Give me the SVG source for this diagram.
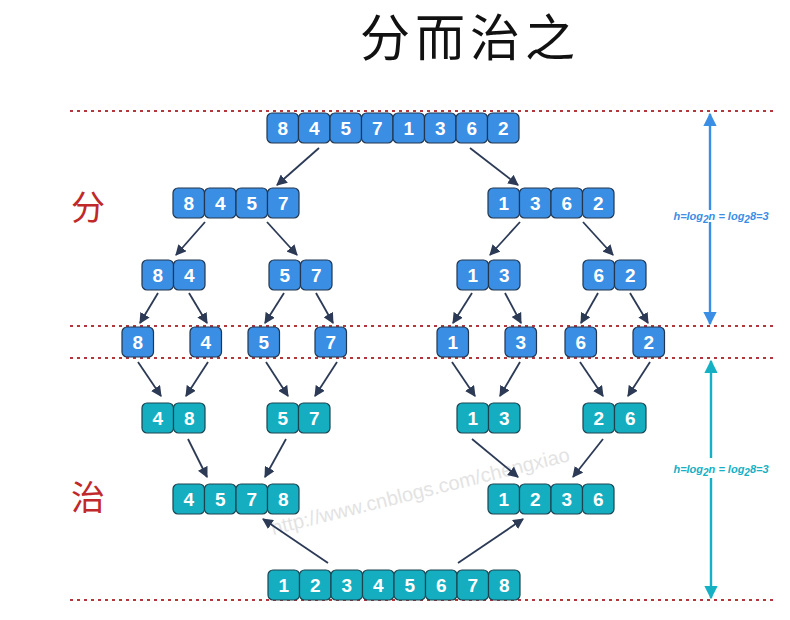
<svg xmlns="http://www.w3.org/2000/svg" width="790" height="620" viewBox="0 0 790 620">
<defs>
<style>
.b{fill:#3a8ee4;stroke:#22364f;stroke-width:1.2}
.t{fill:#14aec0;stroke:#1c4450;stroke-width:1.2}
.b text,.t text{font-family:"Liberation Sans",Arial,sans-serif;font-weight:bold;font-size:19px;fill:#fff;stroke:none;text-anchor:middle}
.dot{stroke:#b3383b;stroke-width:2;stroke-dasharray:3 4;fill:none}
.arr line{stroke:#2c3a56;stroke-width:1.8;marker-end:url(#ah)}
.ann{font-family:"Liberation Sans",Arial,sans-serif;font-style:italic;font-weight:bold;font-size:11px;text-anchor:middle}
.cjk{font-family:"Noto Sans CJK SC","Noto Sans CJK JP",sans-serif}
</style>
<marker id="ah" viewBox="0 0 10 10" refX="9" refY="5" markerWidth="6" markerHeight="6" markerUnits="strokeWidth" orient="auto"><path d="M0,0 L10,5 L0,10 z" fill="#2c3a56"/></marker>
<marker id="ahb" viewBox="0 0 10 10" refX="9" refY="5" markerWidth="5.5" markerHeight="5.5" markerUnits="strokeWidth" orient="auto"><path d="M0,0 L10,5 L0,10 z" fill="#3a8ee4"/></marker>
<marker id="aht" viewBox="0 0 10 10" refX="9" refY="5" markerWidth="5.5" markerHeight="5.5" markerUnits="strokeWidth" orient="auto"><path d="M0,0 L10,5 L0,10 z" fill="#14b0c4"/></marker>
<rect id="c" x="0" y="0" width="31.5" height="30" rx="5"/>
</defs>
<rect width="790" height="620" fill="#fff"/>

<text x="470" y="56" class="cjk" font-size="50" letter-spacing="5" fill="#111" text-anchor="middle">分而治之</text>
<text x="88" y="220" class="cjk" font-size="34" fill="#c0282a" text-anchor="middle">分</text>
<text x="88" y="510" class="cjk" font-size="34" fill="#c0282a" text-anchor="middle">治</text>

<text x="273" y="535" transform="rotate(-14 273 535)" font-family="Liberation Sans,Arial,sans-serif" font-size="20" fill="#e3e3e3">http://www.cnblogs.com/chengxiao</text>

<g id="guides">
<line class="dot" x1="70" y1="111" x2="776" y2="111"/>
<line class="dot" x1="70" y1="326" x2="776" y2="326"/>
<line class="dot" x1="70" y1="358" x2="776" y2="358"/>
<line class="dot" x1="70" y1="600" x2="776" y2="600"/>
</g>

<g id="height-divide">
<line x1="710" y1="210" x2="710" y2="114" stroke="#3a8ee4" stroke-width="2.4" marker-end="url(#ahb)"/>
<line x1="710" y1="222" x2="710" y2="324" stroke="#3a8ee4" stroke-width="2.4" marker-end="url(#ahb)"/>
<text class="ann" x="721" y="220" fill="#3a8ee4">h=log<tspan dy="3" font-size="10">2</tspan><tspan dy="-3">n = log</tspan><tspan dy="3" font-size="10">2</tspan><tspan dy="-3">8=3</tspan></text>
</g>
<g id="height-conquer">
<line x1="711" y1="458" x2="711" y2="361" stroke="#14b0c4" stroke-width="2.4" marker-end="url(#aht)"/>
<line x1="711" y1="478" x2="711" y2="598" stroke="#14b0c4" stroke-width="2.4" marker-end="url(#aht)"/>
<text class="ann" x="721" y="473" fill="#14b0c4">h=log<tspan dy="3" font-size="10">2</tspan><tspan dy="-3">n = log</tspan><tspan dy="3" font-size="10">2</tspan><tspan dy="-3">8=3</tspan></text>
</g>

<g id="connectors" class="arr">
<line x1="319" y1="148" x2="277" y2="185"/>
<line x1="470" y1="148" x2="518" y2="185"/>
<line x1="205" y1="222" x2="176" y2="255"/>
<line x1="267" y1="222" x2="297" y2="255"/>
<line x1="520" y1="222" x2="490" y2="255"/>
<line x1="583" y1="222" x2="613" y2="255"/>
<line x1="158" y1="293" x2="140" y2="323"/>
<line x1="189" y1="293" x2="207" y2="323"/>
<line x1="284" y1="293" x2="265" y2="323"/>
<line x1="316" y1="293" x2="333" y2="323"/>
<line x1="472" y1="293" x2="453" y2="323"/>
<line x1="505" y1="293" x2="521" y2="323"/>
<line x1="598" y1="293" x2="581" y2="323"/>
<line x1="630" y1="293" x2="648" y2="323"/>
<line x1="138" y1="362" x2="161" y2="396"/>
<line x1="208" y1="362" x2="186" y2="396"/>
<line x1="266" y1="362" x2="288" y2="396"/>
<line x1="337" y1="362" x2="315" y2="396"/>
<line x1="452" y1="362" x2="475" y2="396"/>
<line x1="520" y1="362" x2="500" y2="396"/>
<line x1="580" y1="362" x2="603" y2="396"/>
<line x1="650" y1="362" x2="628" y2="396"/>
<line x1="188" y1="439" x2="207" y2="477"/>
<line x1="286" y1="439" x2="265" y2="477"/>
<line x1="472" y1="439" x2="518" y2="477"/>
<line x1="603" y1="439" x2="573" y2="477"/>
<line x1="328" y1="563" x2="263" y2="519"/>
<line x1="458" y1="563" x2="523" y2="519"/>
</g>

<g id="r1" class="b" transform="translate(267,113)">
<use href="#c" x="0"/><use href="#c" x="31.5"/><use href="#c" x="63"/><use href="#c" x="94.5"/><use href="#c" x="126"/><use href="#c" x="157.5"/><use href="#c" x="189"/><use href="#c" x="220.5"/>
<text x="15.75" y="22">8</text><text x="47.25" y="22">4</text><text x="78.75" y="22">5</text><text x="110.25" y="22">7</text><text x="141.75" y="22">1</text><text x="173.25" y="22">3</text><text x="204.75" y="22">6</text><text x="236.25" y="22">2</text>
</g>

<g id="r2a" class="b" transform="translate(173,188)">
<use href="#c" x="0"/><use href="#c" x="31.5"/><use href="#c" x="63"/><use href="#c" x="94.5"/>
<text x="15.75" y="22">8</text><text x="47.25" y="22">4</text><text x="78.75" y="22">5</text><text x="110.25" y="22">7</text>
</g>
<g id="r2b" class="b" transform="translate(488,188)">
<use href="#c" x="0"/><use href="#c" x="31.5"/><use href="#c" x="63"/><use href="#c" x="94.5"/>
<text x="15.75" y="22">1</text><text x="47.25" y="22">3</text><text x="78.75" y="22">6</text><text x="110.25" y="22">2</text>
</g>

<g id="r3a" class="b" transform="translate(142,260)"><use href="#c" x="0"/><use href="#c" x="31.5"/><text x="15.75" y="22">8</text><text x="47.25" y="22">4</text></g>
<g id="r3b" class="b" transform="translate(269,260)"><use href="#c" x="0"/><use href="#c" x="31.5"/><text x="15.75" y="22">5</text><text x="47.25" y="22">7</text></g>
<g id="r3c" class="b" transform="translate(457,260)"><use href="#c" x="0"/><use href="#c" x="31.5"/><text x="15.75" y="22">1</text><text x="47.25" y="22">3</text></g>
<g id="r3d" class="b" transform="translate(583,260)"><use href="#c" x="0"/><use href="#c" x="31.5"/><text x="15.75" y="22">6</text><text x="47.25" y="22">2</text></g>

<g id="r4a" class="b" transform="translate(122,327)"><use href="#c"/><text x="15.75" y="22">8</text></g>
<g id="r4b" class="b" transform="translate(190,327)"><use href="#c"/><text x="15.75" y="22">4</text></g>
<g id="r4c" class="b" transform="translate(248,327)"><use href="#c"/><text x="15.75" y="22">5</text></g>
<g id="r4d" class="b" transform="translate(315,327)"><use href="#c"/><text x="15.75" y="22">7</text></g>
<g id="r4e" class="b" transform="translate(437,327)"><use href="#c"/><text x="15.75" y="22">1</text></g>
<g id="r4f" class="b" transform="translate(505,327)"><use href="#c"/><text x="15.75" y="22">3</text></g>
<g id="r4g" class="b" transform="translate(565,327)"><use href="#c"/><text x="15.75" y="22">6</text></g>
<g id="r4h" class="b" transform="translate(633,327)"><use href="#c"/><text x="15.75" y="22">2</text></g>

<g id="r5a" class="t" transform="translate(142,403)"><use href="#c" x="0"/><use href="#c" x="31.5"/><text x="15.75" y="22">4</text><text x="47.25" y="22">8</text></g>
<g id="r5b" class="t" transform="translate(267,403)"><use href="#c" x="0"/><use href="#c" x="31.5"/><text x="15.75" y="22">5</text><text x="47.25" y="22">7</text></g>
<g id="r5c" class="t" transform="translate(457,403)"><use href="#c" x="0"/><use href="#c" x="31.5"/><text x="15.75" y="22">1</text><text x="47.25" y="22">3</text></g>
<g id="r5d" class="t" transform="translate(583,403)"><use href="#c" x="0"/><use href="#c" x="31.5"/><text x="15.75" y="22">2</text><text x="47.25" y="22">6</text></g>

<g id="r6a" class="t" transform="translate(173,484)">
<use href="#c" x="0"/><use href="#c" x="31.5"/><use href="#c" x="63"/><use href="#c" x="94.5"/>
<text x="15.75" y="22">4</text><text x="47.25" y="22">5</text><text x="78.75" y="22">7</text><text x="110.25" y="22">8</text>
</g>
<g id="r6b" class="t" transform="translate(488,484)">
<use href="#c" x="0"/><use href="#c" x="31.5"/><use href="#c" x="63"/><use href="#c" x="94.5"/>
<text x="15.75" y="22">1</text><text x="47.25" y="22">2</text><text x="78.75" y="22">3</text><text x="110.25" y="22">6</text>
</g>

<g id="r7" class="t" transform="translate(268,570)">
<use href="#c" x="0"/><use href="#c" x="31.5"/><use href="#c" x="63"/><use href="#c" x="94.5"/><use href="#c" x="126"/><use href="#c" x="157.5"/><use href="#c" x="189"/><use href="#c" x="220.5"/>
<text x="15.75" y="22">1</text><text x="47.25" y="22">2</text><text x="78.75" y="22">3</text><text x="110.25" y="22">4</text><text x="141.75" y="22">5</text><text x="173.25" y="22">6</text><text x="204.75" y="22">7</text><text x="236.25" y="22">8</text>
</g>
</svg>
